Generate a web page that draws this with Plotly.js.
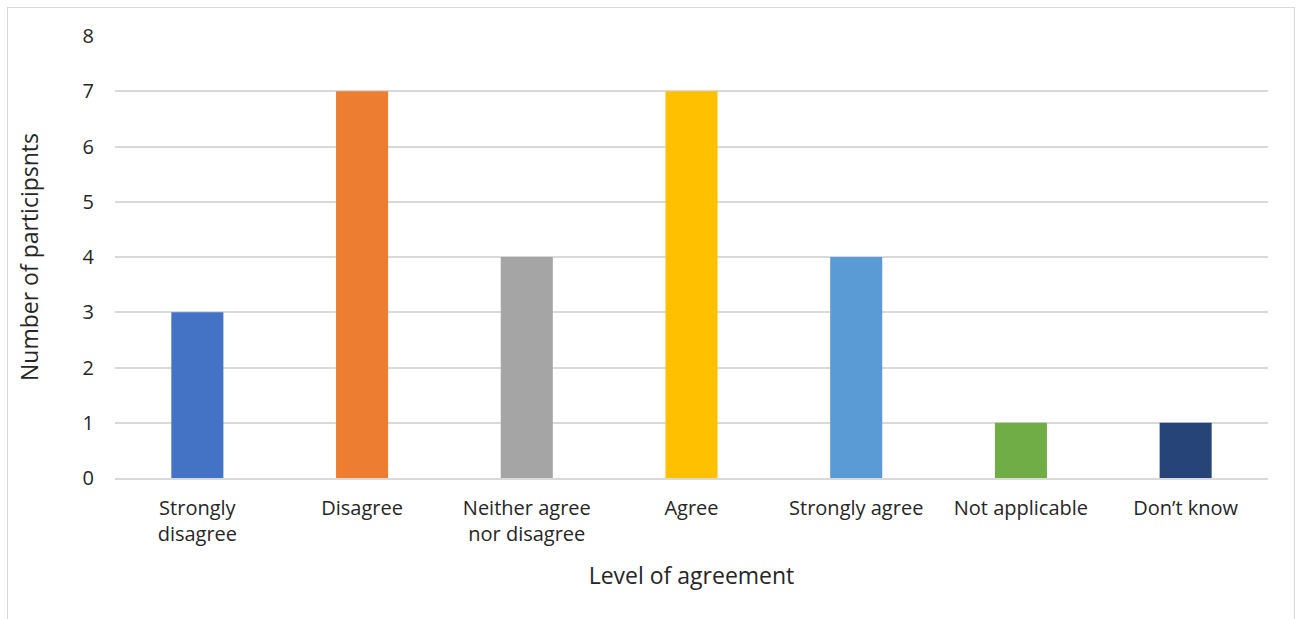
<!DOCTYPE html>
<html><head><meta charset="utf-8">
<script src="https://cdn.plot.ly/plotly-3.0.1.min.js"></script>
<style>
html,body{margin:0;padding:0;background:#fff;}
#frame{position:absolute;left:7px;top:7px;width:1288px;height:640px;border:1px solid #d9d9d9;box-sizing:border-box;}
#chart{position:absolute;left:0;top:0;width:1303px;height:619px;}
</style></head>
<body>
<div id="frame"></div>
<div id="chart"></div>
<script>
const categories = ["Strongly<br>disagree","Disagree","Neither agree<br>nor disagree","Agree","Strongly agree","Not applicable","Don’t know"];
const counts = [3,7,4,7,4,1,1];
const colors = ["#4472C4","#ED7D31","#A5A5A5","#FFC000","#5B9BD5","#70AD47","#264478"];
const yTicks = [0,1,2,3,4,5,6,7,8];
const font = "'Open Sans', sans-serif";
Plotly.newPlot("chart",[{
  type:"bar", x:categories, y:counts, marker:{color:colors}, hoverinfo:"x+y"
}],{
  width:1303,height:619,
  paper_bgcolor:"rgba(0,0,0,0)",plot_bgcolor:"rgba(0,0,0,0)",
  margin:{l:115,r:35,t:36,b:141},
  bargap:0.684,
  showlegend:false,
  font:{family:font,color:"#262626",size:20},
  xaxis:{title:{text:"Level of agreement",font:{size:23,color:"#262626"},standoff:22},tickfont:{size:20},
         showline:true,linecolor:"#d9d9d9",linewidth:2,ticks:"",ticklabelstandoff:11,automargin:false},
  yaxis:{title:{text:"Number of participsnts",font:{size:23,color:"#262626"},standoff:37},range:[0,8],tickvals:yTicks,
         gridcolor:"#d9d9d9",gridwidth:2,zeroline:false,tickfont:{size:20},ticklabelstandoff:20,automargin:false}
},{displayModeBar:false,staticPlot:true});
</script>
</body></html>
